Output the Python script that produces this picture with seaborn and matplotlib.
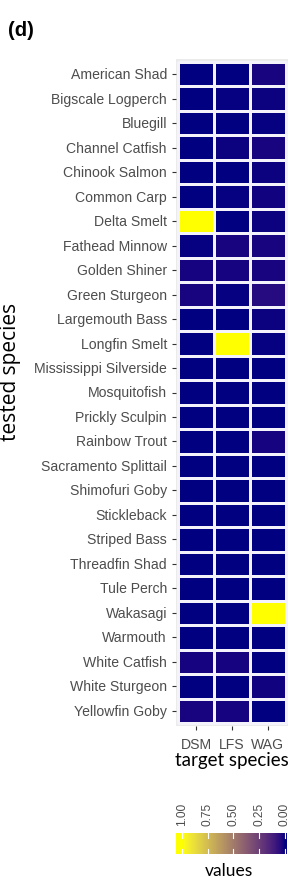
import numpy as np
import pandas as pd
import matplotlib
matplotlib.use("Agg")
import matplotlib.pyplot as plt
import seaborn as sns
from matplotlib.colors import ListedColormap

species = ["American Shad", "Bigscale Logperch", "Bluegill", "Channel Catfish",
           "Chinook Salmon", "Common Carp", "Delta Smelt", "Fathead Minnow",
           "Golden Shiner", "Green Sturgeon", "Largemouth Bass", "Longfin Smelt",
           "Mississippi Silverside", "Mosquitofish", "Prickly Sculpin",
           "Rainbow Trout", "Sacramento Splittail", "Shimofuri Goby",
           "Stickleback", "Striped Bass", "Threadfin Shad", "Tule Perch",
           "Wakasagi", "Warmouth", "White Catfish", "White Sturgeon",
           "Yellowfin Goby"]
targets = ["DSM", "LFS", "WAG"]

dsm = [0.00, 0.00, 0.00, 0.00, 0.00, 0.00, 1.00, 0.004, 0.018, 0.022, 0.00, 0.00,
       0.00, 0.00, 0.00, 0.00, 0.00, 0.00, 0.00, 0.00, 0.00, 0.00, 0.00, 0.00,
       0.018, 0.00, 0.02]
lfs = [0.00, 0.004, 0.00, 0.008, 0.00, 0.004, 0.00, 0.02, 0.018, 0.004, 0.00, 1.00,
       0.00, 0.00, 0.00, 0.00, 0.00, 0.00, 0.00, 0.00, 0.00, 0.00, 0.00, 0.00,
       0.018, 0.00, 0.018]
wag = [0.02, 0.008, 0.004, 0.02, 0.008, 0.015, 0.008, 0.02, 0.02, 0.04, 0.008, 0.004,
       0.00, 0.00, 0.00, 0.018, 0.00, 0.00, 0.00, 0.00, 0.00, 0.00, 1.00, 0.00,
       0.00, 0.015, 0.00]

df = pd.DataFrame({"DSM": dsm, "LFS": lfs, "WAG": wag}, index=species)


# ggplot-style gradient navy -> yellow, interpolated in Lab space
def srgb_to_lab(c):
    c = np.asarray(c, float)
    lin = np.where(c <= 0.04045, c / 12.92, ((c + 0.055) / 1.055) ** 2.4)
    m = np.array([[0.4124, 0.3576, 0.1805],
                  [0.2126, 0.7152, 0.0722],
                  [0.0193, 0.1192, 0.9505]])
    xyz = m @ lin / np.array([0.95047, 1.0, 1.08883])
    f = np.where(xyz > 0.008856, np.cbrt(xyz), 7.787 * xyz + 16 / 116)
    return np.array([116 * f[1] - 16, 500 * (f[0] - f[1]), 200 * (f[1] - f[2])])


def lab_to_srgb(lab):
    L, a, b = lab
    fy = (L + 16) / 116
    fx = fy + a / 500
    fz = fy - b / 200
    f = np.array([fx, fy, fz])
    xyz = np.where(f ** 3 > 0.008856, f ** 3, (f - 16 / 116) / 7.787)
    xyz = xyz * np.array([0.95047, 1.0, 1.08883])
    minv = np.array([[3.2406, -1.5372, -0.4986],
                     [-0.9689, 1.8758, 0.0415],
                     [0.0557, -0.2040, 1.0570]])
    lin = minv @ xyz
    c = np.where(lin <= 0.0031308, 12.92 * lin, 1.055 * np.clip(lin, 0, None) ** (1 / 2.4) - 0.055)
    return np.clip(c, 0, 1)


lo = srgb_to_lab([0, 0, 128 / 255])
hi = srgb_to_lab([1, 1, 0])
cols = [lab_to_srgb(lo + (hi - lo) * t) for t in np.linspace(0, 1, 256)]
cmap = ListedColormap(cols)

fig = plt.figure(figsize=(3.03, 8.78), dpi=100)
ax = fig.add_axes([176 / 303, 1 - 727 / 878, 112 / 303, 667 / 878])
ax.set_facecolor("#EBEBEB")

sns.heatmap(df, ax=ax, cmap=cmap, vmin=0, vmax=1, cbar=False,
            linewidths=0.8, linecolor="#F4F2FA")
ax.set_xlim(-0.07, 3.07)
ax.set_ylim(27.12, -0.12)
for s in ax.spines.values():
    s.set_visible(False)

tick_col = "#4D4D4D"
ax.tick_params(axis="both", colors="#333333", length=3, width=0.8)
ax.tick_params(axis="x", pad=5)
ax.set_yticks(np.arange(27) + 0.5)
ax.set_yticklabels(species, fontsize=10.1, color=tick_col, family="Liberation Sans", rotation=0)
ax.set_xticks(np.arange(3) + 0.5)
ax.set_xticklabels(targets, fontsize=10.1, color=tick_col, family="Liberation Sans", rotation=0)
ax.set_xlabel("target species", fontsize=13.5, family="Lato", color="black")
ax.xaxis.set_label_coords(0.5, (727 - 752) / 667)
ax.set_ylabel("tested species", fontsize=15, family="Open Sans", color="black")
ax.yaxis.set_label_coords((21 - 176) / 112, (727 - 372) / 667)

fig.text(8 / 303, 1 - 31 / 878, "(d)", fontsize=14.5, fontweight="bold",
         family="Liberation Sans", va="center", ha="left")

# legend colourbar (reversed, 1.00 on the left)
cax = fig.add_axes([176 / 303, 1 - 855 / 878, 111 / 303, 21 / 878])
grad = np.linspace(1.058, -0.02, 300).reshape(1, -1)
cax.imshow(grad, aspect="auto", cmap=cmap, vmin=0, vmax=1,
           extent=(1.058, -0.02, 0, 1))
cax.set_xlim(1.058, -0.02)
cax.set_ylim(0, 1)
breaks = [1.00, 0.75, 0.50, 0.25, 0.00]
for b in breaks:
    cax.plot([b, b], [0, 0.22], color="white", lw=0.8)
    cax.plot([b, b], [0.78, 1], color="white", lw=0.8)
cax.set_yticks([])
cax.xaxis.tick_top()
cax.set_xticks(breaks)
cax.set_xticklabels([f"{b:.2f}" for b in breaks], rotation=90, fontsize=8.6,
                    color=tick_col, family="Liberation Sans")
cax.tick_params(axis="x", length=0, pad=6)
for s in cax.spines.values():
    s.set_visible(False)
fig.text(229 / 303, 1 - 871 / 878, "values", fontsize=12.5, family="Lato",
         ha="center", va="center")

fig.savefig("out.png", dpi=100)
